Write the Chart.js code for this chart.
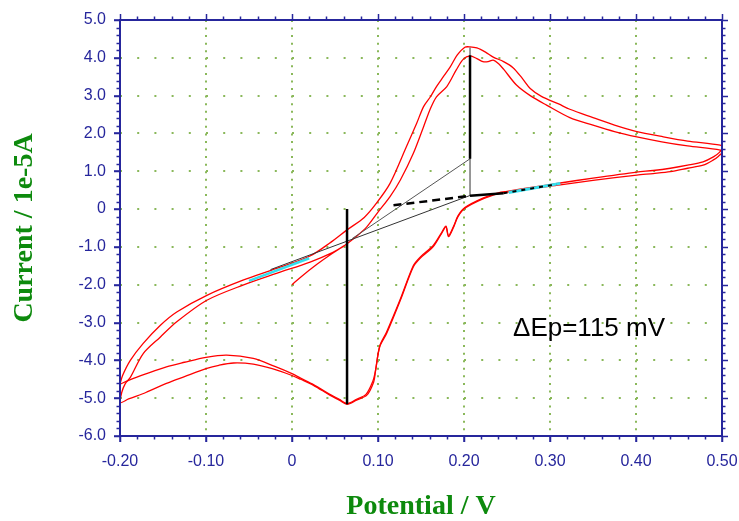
<!DOCTYPE html>
<html>
<head>
<meta charset="utf-8">
<script src="https://cdn.jsdelivr.net/npm/chart.js@4.4.1/dist/chart.umd.min.js"></script>
<style>
  html, body { margin: 0; padding: 0; background: #fff; }
  canvas { display: block; }
</style>
</head>
<body>
<canvas id="grafik" width="739" height="521"></canvas>
<script>
// tick labels
const xTickLabels = ['-0.20', '-0.10', '0', '0.10', '0.20', '0.30', '0.40', '0.50']
const yTickLabels = ['-6.0', '-5.0', '-4.0', '-3.0', '-2.0', '-1.0', '0', '1.0', '2.0', '3.0', '4.0', '5.0']

// siklus 1 (mulai dari 0 V, garis dalam)
const siklus1Potensial = [
    0.000, 0.010, 0.029, 0.045, 0.062,
    0.075, 0.087, 0.100, 0.114, 0.126, 0.141, 0.153, 0.161, 0.168, 0.180, 0.191, 0.199, 0.207,
    0.215, 0.222, 0.228, 0.234, 0.240, 0.246, 0.261, 0.277, 0.296, 0.323, 0.350, 0.375, 0.401, 0.430, 0.460, 0.498, 0.500,
    0.496, 0.490, 0.478, 0.460, 0.440, 0.420, 0.401, 0.350, 0.312, 0.280, 0.250,
    0.240, 0.222, 0.201, 0.193, 0.188, 0.182, 0.179, 0.174, 0.164, 0.149, 0.141, 0.126, 0.110, 0.102, 0.097, 0.095, 0.087, 0.075, 0.064, 0.055, 0.044, 0.025, 0.010, 0.000,
    -0.023, -0.045, -0.068, -0.085, -0.100, -0.125, -0.146, -0.170, -0.190, -0.200,
    -0.198, -0.194, -0.188, -0.173, -0.153, -0.134, -0.099, -0.057, -0.018, 0.021, 0.045, 0.062
]
const siklus1Arus = [
    -2.00, -1.80, -1.46, -1.20, -0.95,
    -0.72, -0.47, -0.08, 0.33, 0.77, 1.47, 2.18, 2.66, 2.97, 3.24, 3.68, 3.96, 4.05,
    3.98, 3.90, 3.90, 3.94, 3.85, 3.70, 3.28, 3.00, 2.75, 2.42, 2.22, 2.05, 1.91, 1.78, 1.67, 1.56, 1.50,
    1.40, 1.30, 1.16, 1.08, 0.99, 0.94, 0.90, 0.76, 0.64, 0.55, 0.45,
    0.41, 0.27, 0.02, -0.20, -0.47, -0.73, -0.47, -0.64, -1.00, -1.30, -1.53, -2.41, -3.29, -3.64, -4.30, -4.57, -4.92, -5.05, -5.16, -5.05, -4.92, -4.66, -4.50, -4.40,
    -4.22, -4.10, -4.07, -4.13, -4.22, -4.43, -4.61, -4.85, -5.02, -5.12,
    -4.85, -4.62, -4.45, -3.82, -3.38, -2.98, -2.41, -2.01, -1.70, -1.40, -1.17, -0.95
]

// siklus 2 (garis luar, tertutup di -0.20 V)
const siklus2Potensial = [
    -0.200, -0.197, -0.188, -0.173, -0.153, -0.134, -0.099, -0.057, -0.018, 0.021, 0.045, 0.064,
    0.084, 0.098, 0.114, 0.133, 0.145, 0.153, 0.161, 0.168, 0.176, 0.184, 0.192, 0.201, 0.207,
    0.215, 0.225, 0.234, 0.246, 0.257, 0.268, 0.277, 0.290, 0.310, 0.323, 0.350, 0.375, 0.401, 0.430, 0.460, 0.498, 0.500,
    0.497, 0.490, 0.478, 0.460, 0.440, 0.420, 0.401, 0.350, 0.312, 0.280, 0.250,
    0.240, 0.222, 0.201, 0.193, 0.188, 0.182, 0.179, 0.174, 0.164, 0.149, 0.141, 0.126, 0.110, 0.102, 0.097, 0.094, 0.086, 0.075, 0.064, 0.055, 0.044, 0.025, 0.010, 0.000,
    -0.020, -0.045, -0.076, -0.100, -0.125, -0.146, -0.170, -0.190, -0.200
]
const siklus2Arus = [
    -4.63, -4.40, -4.00, -3.55, -3.07, -2.72, -2.28, -1.88, -1.57, -1.24, -0.88, -0.55,
    -0.22, 0.15, 0.68, 1.65, 2.27, 2.71, 2.97, 3.24, 3.50, 3.76, 4.07, 4.28, 4.29,
    4.26, 4.15, 4.02, 3.90, 3.74, 3.45, 3.19, 2.98, 2.78, 2.64, 2.42, 2.22, 2.05, 1.92, 1.80, 1.69, 1.62,
    1.50, 1.38, 1.25, 1.16, 1.08, 1.02, 0.98, 0.82, 0.69, 0.58, 0.47,
    0.43, 0.29, 0.04, -0.18, -0.45, -0.70, -0.45, -0.62, -0.97, -1.27, -1.50, -2.38, -3.25, -3.62, -4.28, -4.55, -4.90, -5.03, -5.14, -5.03, -4.90, -4.64, -4.47, -4.35,
    -4.16, -3.95, -3.86, -3.92, -4.05, -4.17, -4.36, -4.53, -4.63
]

// garis bantu puncak dan baseline
const puncakKatodikPot = [0.064, 0.064]
const puncakKatodikArus = [0.00, -5.16]
const puncakAnodikPot = [0.207, 0.207]
const puncakAnodikArus = [4.07, 1.33]
const batangAnodikPot = [0.207, 0.207]
const batangAnodikArus = [4.27, 0.35]
const garisAtasPot = [0.070, 0.207]
const garisAtasArus = [-0.78, 1.33]
const garisBawahPot = [-0.025, 0.207]
const garisBawahArus = [-1.60, 0.36]
const baselinePutusPot = [0.118, 0.207]
const baselinePutusArus = [0.10, 0.35]
const baselinePenuhPot = [0.207, 0.246]
const baselinePenuhArus = [0.35, 0.42]
const baselineUjungPot = [0.246, 0.308]
const baselineUjungArus = [0.42, 0.66]
const cyanKananPot = [0.252, 0.312]
const cyanKananArus = [0.44, 0.68]
const cyanKiriPot = [-0.050, 0.020]
const cyanKiriArus = [-1.90, -1.30]

const catatan = 'ΔEp=115 mV'

const biru = '#26269c'
const hijau = '#0d8a0d'
const titik = '#8ab85a'
const fontSans = '"Liberation Sans", Arial, sans-serif'
const fontSerif = '"Liberation Serif", "Times New Roman", serif'

const keTitik = (xs, ys) => xs.map((v, i) => ({ x: v, y: ys[i] }))
const garis = (xs, ys, warna, tebal, putus, urutan, lengkung) => ({
    data: keTitik(xs, ys),
    showLine: true,
    borderColor: warna,
    borderWidth: tebal,
    borderDash: putus || [],
    pointRadius: 0,
    pointHoverRadius: 0,
    fill: false,
    tension: lengkung || 0,
    order: urutan
})

// bingkai, tick kecil dan teks ΔEp
const bingkaiPlugin = {
    id: 'bingkai',
    afterDraw(chart) {
        const { ctx, chartArea: a, scales: { x, y } } = chart
        ctx.save()
        ctx.strokeStyle = biru
        ctx.lineWidth = 2
        ctx.strokeRect(a.left, a.top, a.right - a.left, a.bottom - a.top)

        const tick = (x1, y1, x2, y2) => {
            ctx.beginPath()
            ctx.moveTo(x1, y1)
            ctx.lineTo(x2, y2)
            ctx.stroke()
        }
        ctx.lineWidth = 1.5
        for (let i = 0; i <= 35; i++) {
            const px = Math.round(x.getPixelForValue(-0.2 + i * 0.02)) + 0.5
            const len = i % 5 === 0 ? 6 : 3.5
            tick(px, a.bottom, px, a.bottom + len)
            tick(px, a.top, px, a.top - len)
        }
        for (let i = 0; i <= 55; i++) {
            const py = Math.round(y.getPixelForValue(-6 + i * 0.2)) + 0.5
            const len = i % 5 === 0 ? 6 : 3.5
            tick(a.left, py, a.left - len, py)
            tick(a.right, py, a.right + len, py)
        }

        ctx.fillStyle = '#000'
        ctx.font = '26px ' + fontSans
        ctx.textAlign = 'left'
        ctx.textBaseline = 'alphabetic'
        ctx.fillText(catatan, x.getPixelForValue(0.257), y.getPixelForValue(-3.36))
        ctx.restore()
    }
}

const ctx = document.getElementById('grafik').getContext('2d')
const grafik = new Chart(ctx, {
    type: 'scatter',
    data: {
        datasets: [
            garis(siklus1Potensial, siklus1Arus, '#ff0000', 1.3, null, 5, 0.3),
            garis(siklus2Potensial, siklus2Arus, '#ff0000', 1.3, null, 5, 0.3),
            garis(cyanKiriPot, cyanKiriArus, '#33e0ee', 2.5, null, 4),
            garis(cyanKananPot, cyanKananArus, '#33e0ee', 3, null, 4),
            garis(garisAtasPot, garisAtasArus, '#555555', 1, null, 3),
            garis(garisBawahPot, garisBawahArus, '#333333', 1, null, 3),
            garis(batangAnodikPot, batangAnodikArus, '#555555', 1.2, null, 3),
            garis(baselinePutusPot, baselinePutusArus, '#000000', 2.5, [8, 5], 2),
            garis(baselinePenuhPot, baselinePenuhArus, '#000000', 2.5, null, 2),
            garis(baselineUjungPot, baselineUjungArus, '#000000', 2, [4, 5], 2),
            garis(puncakAnodikPot, puncakAnodikArus, '#000000', 2.5, null, 1),
            garis(puncakKatodikPot, puncakKatodikArus, '#000000', 2.5, null, 1)
        ]
    },
    options: {
        responsive: false,
        animation: false,
        events: [],
        layout: { padding: { top: 20, right: 17, left: 0, bottom: 0 } },
        plugins: {
            legend: { display: false },
            tooltip: { enabled: false }
        },
        scales: {
            x: {
                type: 'linear',
                min: -0.2,
                max: 0.5,
                afterFit: (s) => {
                    s.height = 85
                    s.paddingLeft = 0
                    s.paddingRight = 0
                },
                ticks: {
                    stepSize: 0.1,
                    autoSkip: false,
                    maxRotation: 0,
                    padding: 10,
                    color: biru,
                    font: { family: fontSans, size: 16 },
                    callback: (v, i) => xTickLabels[i]
                },
                grid: {
                    color: titik,
                    lineWidth: 2,
                    drawTicks: true,
                    tickLength: 6,
                    tickColor: biru,
                    tickWidth: 1.5
                },
                border: { display: false, dash: [2, 5.56] },
                title: {
                    display: true,
                    text: 'Potential / V',
                    color: hijau,
                    font: { family: fontSerif, size: 28, weight: 'bold', lineHeight: 1 },
                    padding: { top: 0, bottom: 0 }
                }
            },
            y: {
                type: 'linear',
                min: -6,
                max: 5,
                afterFit: (s) => {
                    s.width = 120
                    s.paddingTop = 0
                    s.paddingBottom = 0
                },
                ticks: {
                    stepSize: 1,
                    autoSkip: false,
                    padding: 8,
                    color: biru,
                    font: { family: fontSans, size: 16 },
                    callback: (v, i) => yTickLabels[i]
                },
                grid: {
                    color: titik,
                    lineWidth: 2,
                    drawTicks: true,
                    tickLength: 6,
                    tickColor: biru,
                    tickWidth: 1.5
                },
                border: { display: false, dash: [2, 15.2] },
                title: {
                    display: true,
                    text: 'Current / 1e-5A',
                    color: hijau,
                    font: { family: fontSerif, size: 28, weight: 'bold', lineHeight: 1 },
                    padding: { top: 11, bottom: 0 }
                }
            }
        }
    },
    plugins: [bingkaiPlugin]
})
</script>
</body>
</html>
